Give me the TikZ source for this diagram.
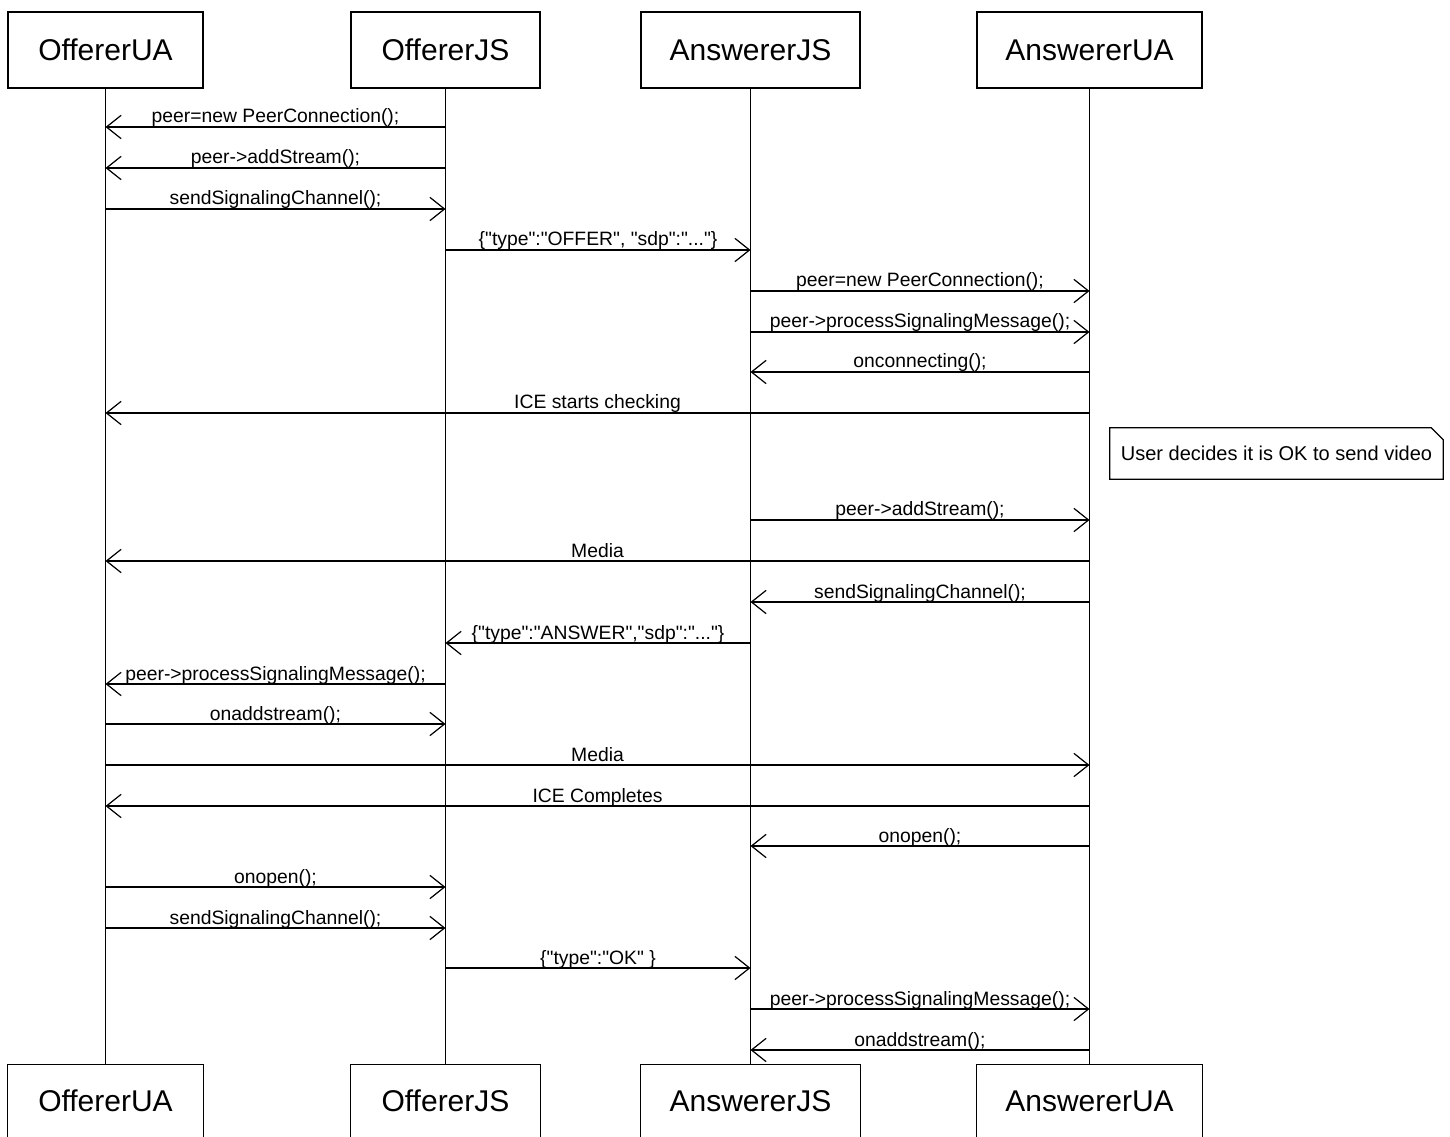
\documentclass[tikz,border=0pt]{standalone}
\usepackage{fontspec}
\setmainfont{Liberation Sans}
\usetikzlibrary{arrows.meta,calc}
\newcommand\qq{\textquotedbl}
\newcommand\seqmsg[4]{\draw[msg] (#2.south |- 0,#1) -- node[lbl]{#4} (#3.south |- 0,#1);}
\begin{document}
\begin{tikzpicture}[x=0.75pt,y=-0.75pt,
  hdr/.style={draw, line width=1pt, minimum height=57pt, inner sep=0pt, font=\fontsize{22.5}{26}\selectfont},
  hdrb/.style={minimum height=54pt, inner sep=0pt, font=\fontsize{22.5}{26}\selectfont},
  life/.style={line width=0.8pt},
  msg/.style={line width=0.9pt, -{Straight Barb[length=11pt,width=17.5pt,line width=0.9pt]}},
  lbl/.style={font=\fontsize{14.5}{17}\selectfont, anchor=base, yshift=3pt, inner sep=0pt},
  notebox/.style={minimum width=249.75pt, minimum height=38.25pt, inner sep=0pt, font=\fontsize{15}{18}\selectfont},
]
\useasboundingbox (0,0) rectangle (1450,1137);
\fill[white] (0,0) rectangle (1450,1137);
% top boxes
\node[hdr, minimum width=146.25pt] (ua) at (105.5,50) {OffererUA};
\node[hdr, minimum width=141.75pt] (js) at (445.5,50) {OffererJS};
\node[hdr, minimum width=164.25pt] (ajs) at (750.5,50) {AnswererJS};
\node[hdr, minimum width=168.75pt] (aua) at (1089.5,50) {AnswererUA};
% bottom boxes
\node[hdrb, minimum width=146.25pt] (uab) at (105.5,1101) {OffererUA};
\node[hdrb, minimum width=141.75pt] (jsb) at (445.5,1101) {OffererJS};
\node[hdrb, minimum width=164.25pt] (ajsb) at (750.5,1101) {AnswererJS};
\node[hdrb, minimum width=168.75pt] (auab) at (1089.5,1101) {AnswererUA};
\foreach \b in {uab,jsb,ajsb,auab}{
  \draw[line width=1pt] (\b.south west) |- (\b.north east) -- (\b.south east);
}
% lifelines
\draw[life] (ua.south) -- (uab.north);
\draw[life] (js.south) -- (jsb.north);
\draw[life] (ajs.south) -- (ajsb.north);
\draw[life] (aua.south) -- (auab.north);
% messages
\seqmsg{127}{js}{ua}{peer=new PeerConnection();}
\seqmsg{168}{js}{ua}{peer->addStream();}
\seqmsg{209}{ua}{js}{sendSignalingChannel();}
\seqmsg{250}{js}{ajs}{\{\qq type\qq:\qq OFFER\qq, \qq sdp\qq:\qq...\qq\}}
\seqmsg{291}{ajs}{aua}{peer=new PeerConnection();}
\seqmsg{332}{ajs}{aua}{peer->processSignalingMessage();}
\seqmsg{372}{aua}{ajs}{onconnecting();}
\seqmsg{413}{aua}{ua}{ICE starts checking}
\seqmsg{520}{ajs}{aua}{peer->addStream();}
\seqmsg{561}{aua}{ua}{Media}
\seqmsg{602}{aua}{ajs}{sendSignalingChannel();}
\seqmsg{643}{ajs}{js}{\{\qq type\qq:\qq ANSWER\qq,\qq sdp\qq:\qq...\qq\}}
\seqmsg{684}{js}{ua}{peer->processSignalingMessage();}
\seqmsg{724}{ua}{js}{onaddstream();}
\seqmsg{765}{ua}{aua}{Media}
\seqmsg{806}{aua}{ua}{ICE Completes}
\seqmsg{846}{aua}{ajs}{onopen();}
\seqmsg{887}{ua}{js}{onopen();}
\seqmsg{928}{ua}{js}{sendSignalingChannel();}
\seqmsg{968}{js}{ajs}{\{\qq type\qq:\qq OK\qq{} \}}
\seqmsg{1009}{ajs}{aua}{peer->processSignalingMessage();}
\seqmsg{1050}{aua}{ajs}{onaddstream();}
% note
\node[notebox] (note) at (1276.5,453.5) {User decides it is OK to send video};
\draw[line width=1pt] (note.south west) -- (note.north west) -- ([xshift=-9pt]note.north east)
  -- ([yshift=-9pt]note.north east) -- (note.south east) -- cycle;
\end{tikzpicture}
\end{document}
